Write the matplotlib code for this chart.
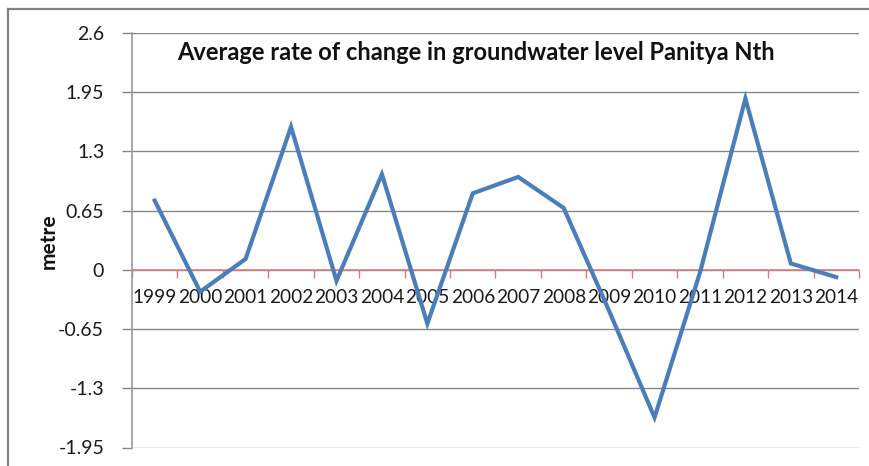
import matplotlib
matplotlib.use("Agg")
import matplotlib.pyplot as plt
from matplotlib import transforms
from matplotlib.lines import Line2D

years = ["1999", "2000", "2001", "2002", "2003", "2004", "2005", "2006",
         "2007", "2008", "2009", "2010", "2011", "2012", "2013", "2014"]
values = [0.76, -0.24, 0.12, 1.57, -0.12, 1.05, -0.59, 0.84,
          1.02, 0.68, -0.45, -1.62, -0.03, 1.88, 0.07, -0.08]
ytick_vals = [2.6, 1.95, 1.3, 0.65, 0, -0.65, -1.3, -1.95]
ytick_labels = ["2.6", "1.95", "1.3", "0.65", "0", "-0.65", "-1.3", "-1.95"]
title = "Average rate of change in groundwater level Panitya Nth"
ylabel = "metre"

W, H = 870, 466
fig = plt.figure(figsize=(W / 100, H / 100), dpi=100)
fig.patch.set_facecolor("white")

L, R, T, B = 132, 859, 33, 447.5
ax = fig.add_axes([L / W, 1 - B / H, (R - L) / W, (B - T) / H])
ax.set_facecolor("white")

x = list(range(len(years)))
ax.plot(x, values, color="#4a7ebb", lw=3.0, zorder=4, solid_joinstyle="miter")

ax.set_xlim(-0.5, len(years) - 0.5)
ax.set_ylim(-1.95, 2.6)
ax.set_yticks(ytick_vals)
ax.set_yticklabels(ytick_labels, fontfamily="Lato", fontsize=14, color="#1a1a1a")
ax.tick_params(axis="y", length=7, width=1, color="#868686", pad=13)
ax.yaxis.grid(True, color="#868686", lw=1.0, zorder=1)
ax.set_axisbelow(True)

for s in ["top", "right"]:
    ax.spines[s].set_visible(False)
ax.spines["left"].set_color("#9a9a9a")
ax.spines["left"].set_linewidth(1.2)
ax.spines["bottom"].set_position(("data", 0))
ax.spines["bottom"].set_color("#e07a7a")
ax.spines["bottom"].set_linewidth(1.1)
ax.spines["bottom"].set_zorder(3)

ax.set_xticks([i - 0.5 for i in range(len(years) + 1)])
ax.set_xticklabels([])
ax.tick_params(axis="x", length=6, width=1, color="#e07a7a", direction="out")

off = transforms.offset_copy(ax.transData, fig=fig, x=0, y=-28, units="dots")
xlabels = []
for i, yr in enumerate(years):
    xlabels.append(ax.text(i, 0, yr, transform=off, ha="center", va="center",
                           fontfamily="Lato", fontsize=14, color="#1a1a1a", clip_on=False))

# title and y label, fitted to reference widths
t = fig.text(476 / W, 1 - 60 / H, title, ha="center", va="baseline",
             fontfamily="Lato", fontweight="bold", fontsize=15, color="#111111")
yl = fig.text(48.5 / W, 1 - 241 / H, ylabel, ha="center", va="center", rotation=90,
              fontfamily="Lato", fontweight="bold", fontsize=12, color="#111111")
fig.canvas.draw()
r = fig.canvas.get_renderer()
tw = t.get_window_extent(r).width
t.set_fontsize(15 * 598 / tw)
yh = yl.get_window_extent(r).height
yl.set_fontsize(12 * 55 / yh)
lw_ = xlabels[0].get_window_extent(r).width
for tx in xlabels:
    tx.set_fontsize(14 * 44 / lw_)

# outer chart frame (top and left edges)
fig.add_artist(Line2D([8 / W, 1.0], [1 - 9 / H, 1 - 9 / H], transform=fig.transFigure,
                      color="#808080", lw=1.6))
fig.add_artist(Line2D([8 / W, 8 / W], [0, 1 - 9 / H], transform=fig.transFigure,
                      color="#808080", lw=1.6))

fig.savefig("out.png", dpi=100, facecolor="white")
